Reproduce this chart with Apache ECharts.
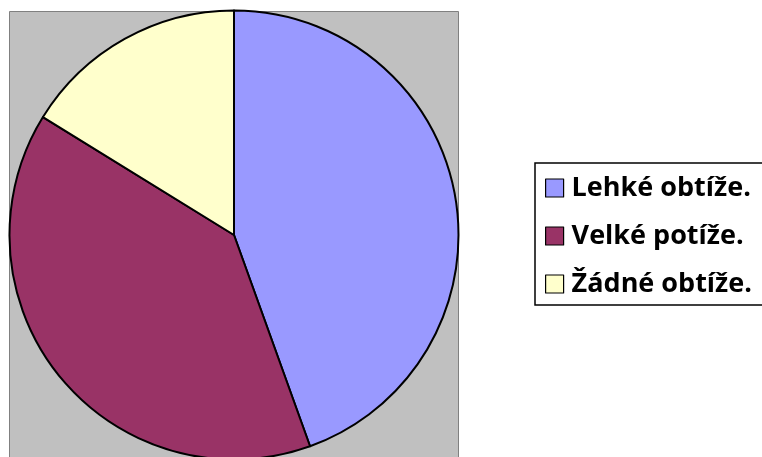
<!DOCTYPE html>
<html>
<head>
<meta charset="utf-8">
<script src="https://cdn.jsdelivr.net/npm/echarts@6/dist/echarts.min.js"></script>
<style>
  html, body { margin: 0; padding: 0; background: #fff; }
  #chart { width: 762px; height: 457px; }
</style>
</head>
<body>
<div id="chart"></div>
<script>
// categories and shares (in percent)
const categories = ['Lehké obtíže.', 'Velké potíže.', 'Žádné obtíže.']
const values = [44.5, 39.3, 16.2]
const colors = ['#9999FF', '#993366', '#FFFFCC']

const chart = echarts.init(document.getElementById('chart'))

const option = {
  animation: false,
  backgroundColor: '#ffffff',
  graphic: [{
    type: 'rect',
    z: -1,
    shape: { x: 9.5, y: 11.5, width: 449, height: 460 },
    style: { fill: '#C0C0C0', stroke: '#808080', lineWidth: 1 }
  }],
  legend: {
    orient: 'vertical',
    left: 535,
    top: 163,
    padding: [10, 40, 6, 10],
    itemWidth: 18,
    itemHeight: 18,
    itemGap: 18,
    icon: 'rect',
    borderColor: '#000',
    borderWidth: 1.5,
    itemStyle: { borderColor: '#000', borderWidth: 1.2 },
    textStyle: {
      fontFamily: 'Open Sans',
      fontWeight: 'bold',
      fontSize: 27,
      lineHeight: 30,
      color: '#000',
      padding: [0, 0, 0, 3]
    },
    data: categories
  },
  series: [{
    type: 'pie',
    center: [234, 235],
    radius: 224.5,
    startAngle: 90,
    clockwise: true,
    label: { show: false },
    labelLine: { show: false },
    emphasis: { disabled: true },
    itemStyle: { borderColor: '#000', borderWidth: 2 },
    data: categories.map((name, i) => ({
      name: name,
      value: values[i],
      itemStyle: { color: colors[i] }
    }))
  }]
}

chart.setOption(option)
</script>
</body>
</html>
